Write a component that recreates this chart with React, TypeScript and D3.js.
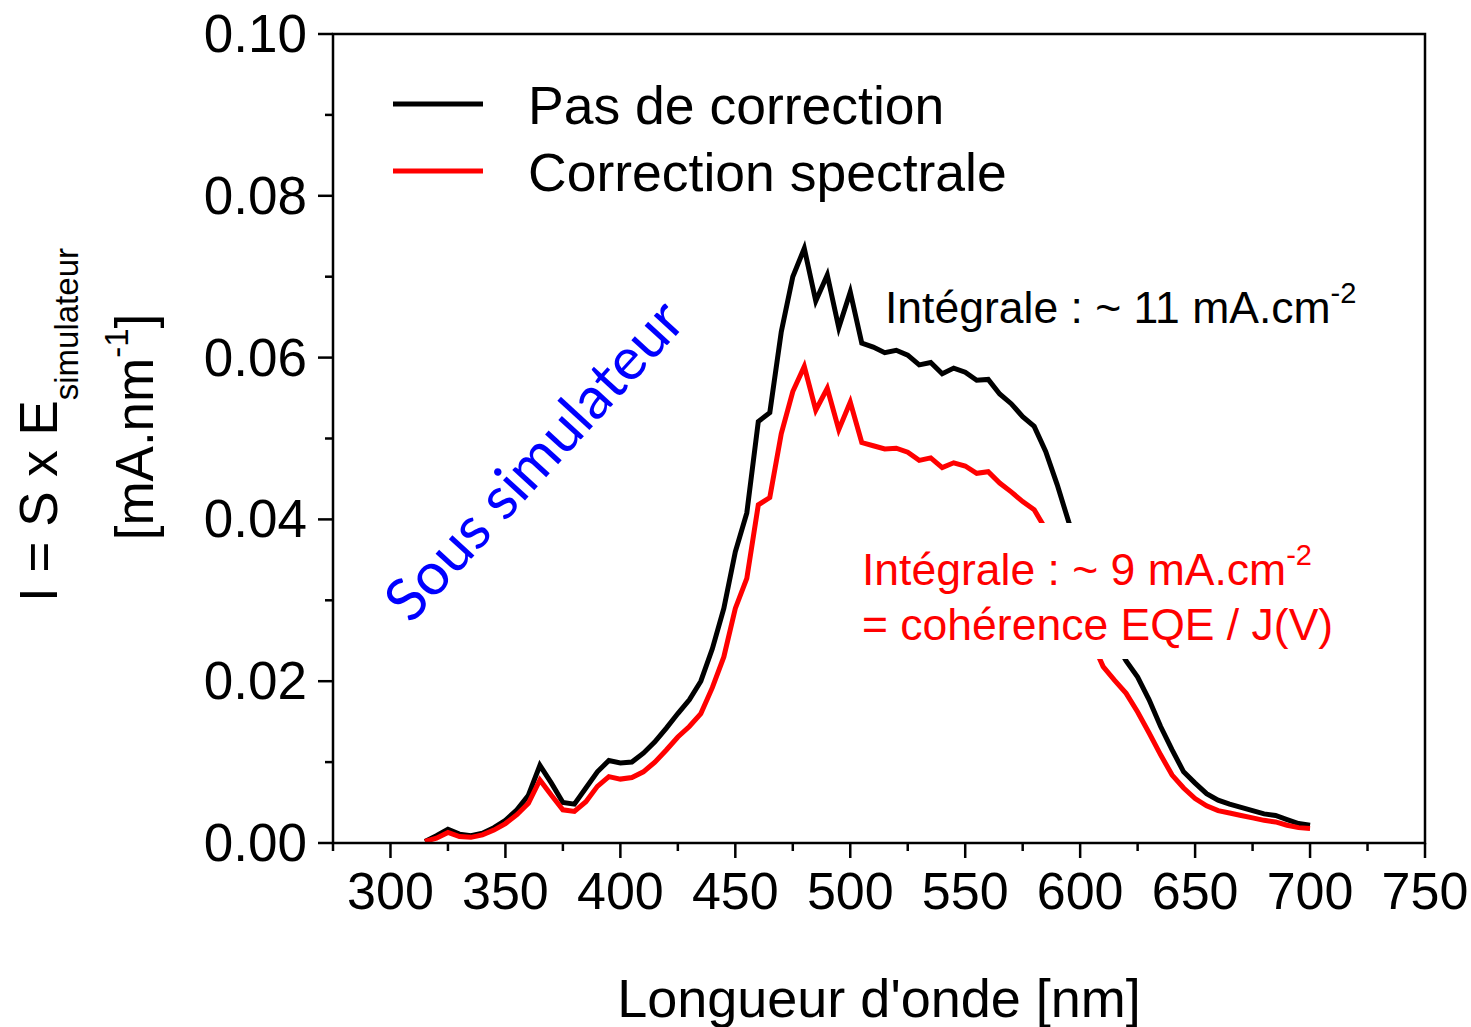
import React from "react";
import * as d3 from "d3";

const wavelengths = [
  315, 320, 325, 330, 335, 340, 345, 350, 355, 360, 365, 370, 375, 380, 385, 390, 395, 400,
  405, 410, 415, 420, 425, 430, 435, 440, 445, 450, 455, 460, 465, 470, 475, 480, 485, 490,
  495, 500, 505, 510, 515, 520, 525, 530, 535, 540, 545, 550, 555, 560, 565, 570, 575, 580,
  585, 590, 595, 600, 605, 610, 615, 620, 625, 630, 635, 640, 645, 650, 655, 660, 665, 670,
  675, 680, 685, 690, 695, 700,
];

const pasDeCorrection = [
  0.0002, 0.0009, 0.0017, 0.0011, 0.0009, 0.0012, 0.0019, 0.0028, 0.0041, 0.0059, 0.0096, 0.0074,
  0.005, 0.0048, 0.0068, 0.0088, 0.0102, 0.0099, 0.01, 0.0111, 0.0125, 0.0142, 0.016, 0.0177,
  0.02, 0.024, 0.029, 0.036, 0.0408, 0.0521, 0.0532, 0.0632, 0.07, 0.0735, 0.067, 0.0702,
  0.0637, 0.0681, 0.0618, 0.0613, 0.0606, 0.0609, 0.0603, 0.0591, 0.0594, 0.058, 0.0587, 0.0582,
  0.0572, 0.0573, 0.0555, 0.0543, 0.0527, 0.0515, 0.0484, 0.0443, 0.0397, 0.0355, 0.0315, 0.028,
  0.025, 0.0225, 0.0205, 0.0177, 0.0144, 0.0115, 0.0088, 0.0074, 0.0061, 0.0053, 0.0048, 0.0044,
  0.004, 0.0036, 0.0034, 0.0029, 0.0024, 0.0022,
];

const correctionSpectrale = [
  0.0002, 0.0006, 0.0013, 0.0008, 0.0007, 0.001, 0.0016, 0.0024, 0.0035, 0.0049, 0.0078, 0.0059,
  0.0041, 0.0039, 0.0051, 0.007, 0.0082, 0.0079, 0.0081, 0.0088, 0.01, 0.0115, 0.0131, 0.0144,
  0.016, 0.0192, 0.023, 0.029, 0.0327, 0.0418, 0.0427, 0.0506, 0.0558, 0.0589, 0.0535, 0.0562,
  0.0511, 0.0545, 0.0495, 0.0491, 0.0487, 0.0488, 0.0483, 0.0473, 0.0476, 0.0464, 0.047, 0.0466,
  0.0457, 0.0459, 0.0445, 0.0434, 0.0422, 0.0412, 0.0388, 0.0355, 0.0318, 0.0284, 0.025, 0.0218,
  0.0201, 0.0185, 0.0162, 0.0136, 0.0109, 0.0084, 0.0068, 0.0055, 0.0046, 0.004, 0.0037, 0.0034,
  0.0031, 0.0028, 0.0026, 0.0022, 0.0019, 0.0018,
];

const xMajorTicks = [300, 350, 400, 450, 500, 550, 600, 650, 700, 750];
const xMinorTicks = [275, 325, 375, 425, 475, 525, 575, 625, 675, 725];
const yMajorTicks = [0, 0.02, 0.04, 0.06, 0.08, 0.1];
const yMinorTicks = [0.01, 0.03, 0.05, 0.07, 0.09];

const seriesNames = ["Pas de correction", "Correction spectrale"];
const seriesColors = ["#000000", "#ff0000"];

const FONT = "'Liberation Sans', Arial, sans-serif";

export default function App() {
  const left = 333, right = 1425, top = 34, bottom = 843;
  const x = d3.scaleLinear().domain([275, 750]).range([left, right]);
  const y = d3.scaleLinear().domain([0, 0.1]).range([bottom, top]);

  const line = d3
    .line<[number, number]>()
    .x((d) => x(d[0]))
    .y((d) => y(d[1]));

  const series = [pasDeCorrection, correctionSpectrale].map((vals) =>
    wavelengths.map((w, i) => [w, vals[i]] as [number, number])
  );

  return (
    <svg
      width={1471}
      height={1027}
      style={{ position: "absolute", left: 0, top: 0, background: "#fff" }}
      fontFamily={FONT}
    >
      <rect x={0} y={0} width={1471} height={1027} fill="#fff" />
      {/* curves */}
      {series.map((s, i) => (
        <path
          key={i}
          d={line(s) || ""}
          fill="none"
          stroke={seriesColors[i]}
          strokeWidth={5}
          strokeLinejoin="miter"
        />
      ))}

      {/* white box behind red annotation */}
      <rect x={856} y={523} width={486} height={136} fill="#fff" />

      {/* frame */}
      <rect x={left} y={top} width={right - left} height={bottom - top} fill="none" stroke="#000" strokeWidth={2.5} />

      {/* x ticks */}
      {xMajorTicks.map((t) => (
        <g key={"xM" + t}>
          <line x1={x(t)} x2={x(t)} y1={bottom} y2={bottom + 15} stroke="#000" strokeWidth={2.5} />
          <text x={x(t)} y={909} fontSize={52} textAnchor="middle" fill="#000">
            {t}
          </text>
        </g>
      ))}
      {xMinorTicks.map((t) => (
        <line key={"xm" + t} x1={x(t)} x2={x(t)} y1={bottom} y2={bottom + 8} stroke="#000" strokeWidth={2.5} />
      ))}

      {/* y ticks */}
      {yMajorTicks.map((t) => (
        <g key={"yM" + t}>
          <line x1={left - 15} x2={left} y1={y(t)} y2={y(t)} stroke="#000" strokeWidth={2.5} />
          <text x={307} y={y(t) + 18} fontSize={53} textAnchor="end" fill="#000">
            {t.toFixed(2)}
          </text>
        </g>
      ))}
      {yMinorTicks.map((t) => (
        <line key={"ym" + t} x1={left - 8} x2={left} y1={y(t)} y2={y(t)} stroke="#000" strokeWidth={2.5} />
      ))}

      {/* axis titles */}
      <text x={879} y={1017} fontSize={54} textAnchor="middle" fill="#000">
        Longueur d'onde [nm]
      </text>
      <text transform="translate(57,425) rotate(-90)" fontSize={53} textAnchor="middle" fill="#000">
        I = S x E
        <tspan fontSize={33} dy={21}>simulateur</tspan>
      </text>
      <text transform="translate(153,427) rotate(-90)" fontSize={53} textAnchor="middle" fill="#000">
        [mA.nm
        <tspan fontSize={33} dy={-25}>-1</tspan>
        <tspan dy={25}>]</tspan>
      </text>

      {/* legend */}
      {seriesNames.map((n, i) => (
        <g key={n}>
          <line x1={393} x2={483} y1={104 + i * 67} y2={104 + i * 67} stroke={seriesColors[i]} strokeWidth={5} />
          <text x={528} y={124 + i * 67} fontSize={53.5} fill="#000">
            {n}
          </text>
        </g>
      ))}

      {/* annotations */}
      <text x={885} y={323} fontSize={44.5} fill="#000">
        Intégrale : ~ 11 mA.cm
        <tspan fontSize={29} dy={-20}>-2</tspan>
      </text>
      <text x={862} y={585} fontSize={44.5} fill="#ff0000">
        Intégrale : ~ 9 mA.cm
        <tspan fontSize={29} dy={-20}>-2</tspan>
      </text>
      <text x={862} y={640} fontSize={44.5} fill="#ff0000">
        = cohérence EQE / J(V)
      </text>

      <text
        transform="translate(411,625) rotate(-47.5)"
        fontSize={59}
        fill="#0000ff"
        fontFamily="Lato, 'Open Sans', sans-serif"
      >
        Sous simulateur
      </text>
    </svg>
  );
}
